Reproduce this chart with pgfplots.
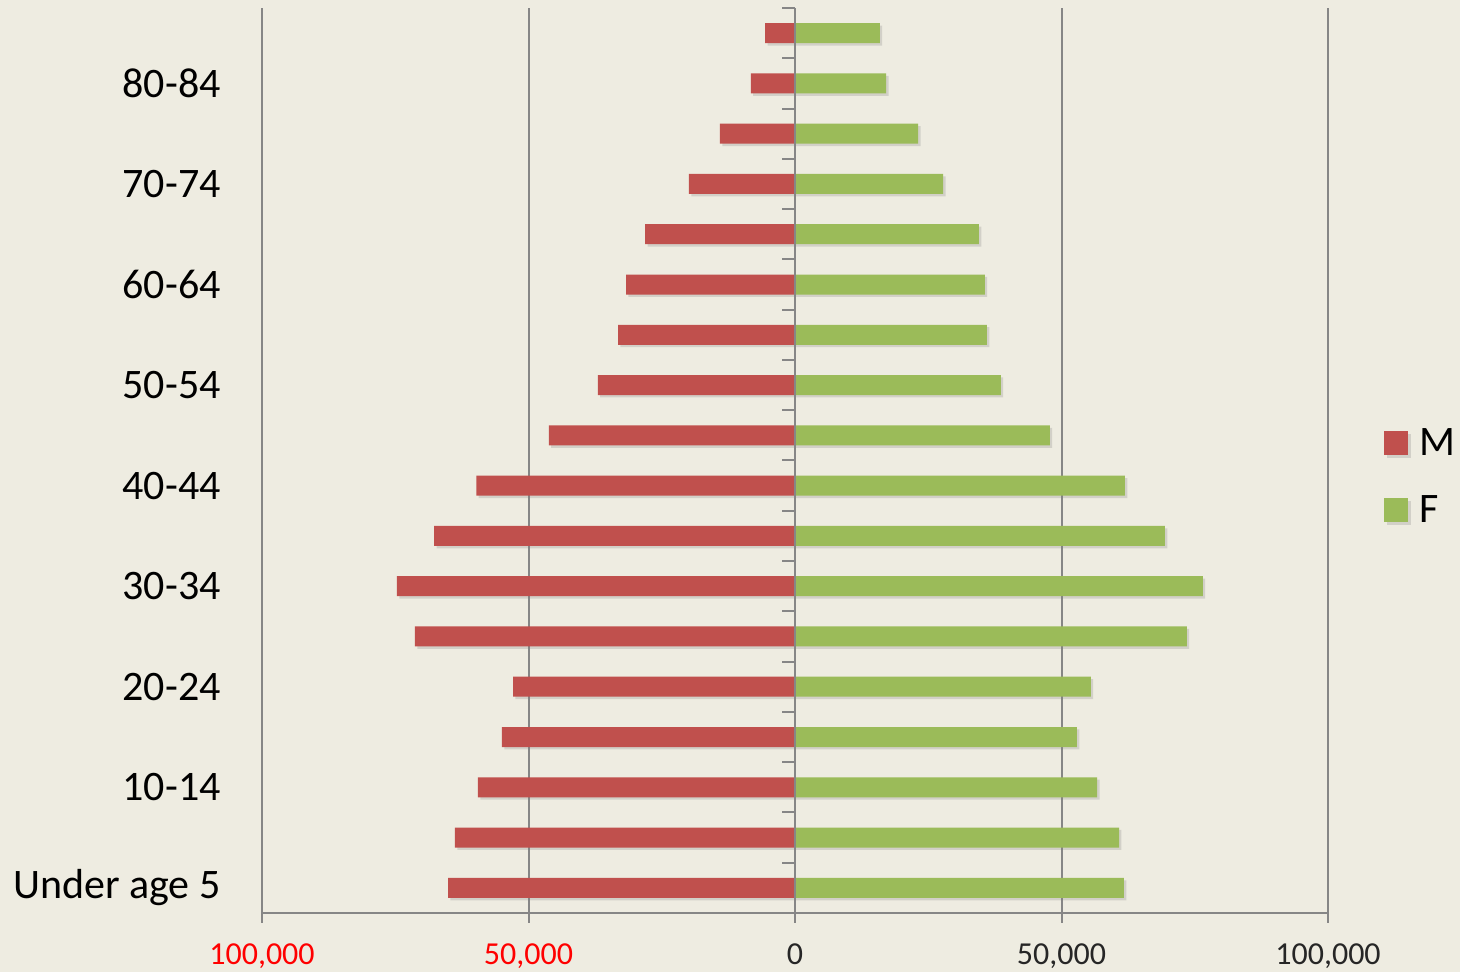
\documentclass[border=0pt]{standalone}
\usepackage{pgfplots}
\pgfplotsset{compat=1.18}
\usepackage{fontspec}
\setmainfont{Carlito}
\usetikzlibrary{shadows}
\definecolor{bg}{HTML}{EEECE1}
\definecolor{mred}{HTML}{C0504D}
\definecolor{fgreen}{HTML}{9BBB59}
\definecolor{gridc}{HTML}{868686}
\begin{document}
\begin{tikzpicture}
\fill[bg] (0,0) rectangle (730pt,486pt);
\begin{axis}[
  at={(131pt,29.5pt)}, anchor=south west,
  scale only axis, width=533pt, height=452.5pt,
  xmin=-100000, xmax=100000, ymin=-0.5, ymax=17.5,
  xbar, bar width=10pt,
  axis x line*=bottom, axis y line*=left,
  x axis line style={gridc, line width=1pt},
  y axis line style={draw=none},
  xtick={-100000,-50000,0,50000,100000},
  xticklabels={{\textcolor{red}{100,000}},{\textcolor{red}{50,000}},0,{50,000},{100,000}},
  ytick={0,2,...,16},
  yticklabels={Under age 5,10-14,20-24,30-34,40-44,50-54,60-64,70-74,80-84},
  xmajorgrids, grid style={gridc, line width=1pt},
  tick align=outside,
  x tick style={gridc, line width=1pt},
  y tick style={draw=none},
  major tick length=5pt,
  xticklabel style={font=\fontsize{16}{19}\selectfont, text=black!85, inner sep=0pt, yshift=-10pt},
  yticklabel style={font=\fontsize{21}{25}\selectfont, text=black, inner sep=0pt, xshift=-15.5pt},
  legend style={at={(1.0525,0.482)}, anchor=west, draw=none, fill=none,
    font=\fontsize{21}{25}\selectfont, row sep=14.5pt, inner sep=0pt},
  legend cell align=left,
]
\addplot[fill=mred, draw=none, bar shift=0pt,
  drop shadow={shadow xshift=1.2pt, shadow yshift=-1.2pt, opacity=0.25},
  legend image code/.code={\fill[mred] (0pt,-6pt) rectangle (12pt,6pt); \path (15.5pt,0pt);}]
coordinates {
(-65100,0) (-63800,1) (-59500,2) (-55000,3) (-52900,4) (-71300,5)
(-74700,6) (-67700,7) (-59800,8) (-46200,9) (-37000,10) (-33200,11)
(-31700,12) (-28100,13) (-19900,14) (-14100,15) (-8300,16) (-5600,17)
};
\addlegendentry{M}
\addplot[fill=fgreen, draw=none, bar shift=0pt,
  drop shadow={shadow xshift=1.2pt, shadow yshift=-1.2pt, opacity=0.25},
  legend image code/.code={\fill[fgreen] (0pt,-6pt) rectangle (12pt,6pt); \path (15.5pt,0pt);}]
coordinates {
(61700,0) (60800,1) (56700,2) (52900,3) (55500,4) (73500,5)
(76500,6) (69400,7) (61900,8) (47800,9) (38600,10) (36000,11)
(35600,12) (34500,13) (27800,14) (23100,15) (17100,16) (15900,17)
};
\addlegendentry{F}
\pgfplotsinvokeforeach{-0.5,0.5,1.5,2.5,3.5,4.5,5.5,6.5,7.5,8.5,9.5,10.5,11.5,12.5,13.5,14.5,15.5,16.5,17.5}{
  \draw[gridc, line width=1pt] (axis cs:0,#1) -- ([xshift=-6.5pt]axis cs:0,#1);
}
\draw[gridc, line width=1pt] (axis cs:0,-0.5) -- (axis cs:0,17.5);
\end{axis}
\pgfresetboundingbox
\useasboundingbox (0,0) rectangle (730pt,486pt);
\end{tikzpicture}
\end{document}
